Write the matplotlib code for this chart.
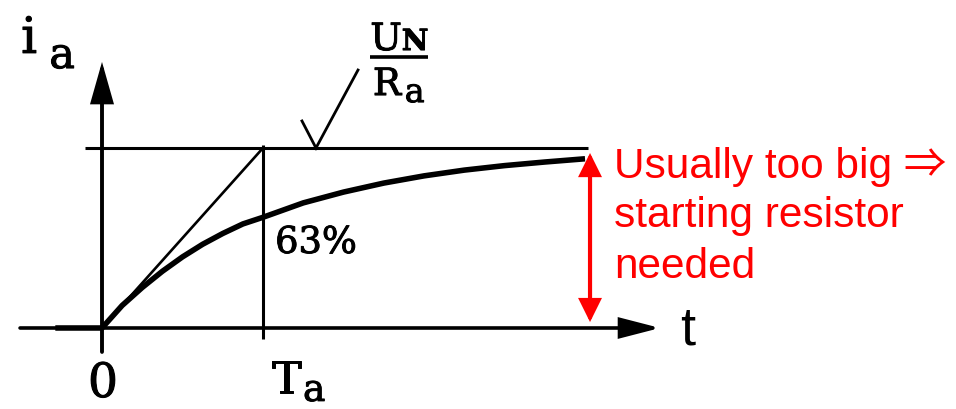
import matplotlib
matplotlib.use("Agg")
import matplotlib.pyplot as plt
import matplotlib.patheffects as pe

# Armature current of a DC motor after switching on, in units of T_a and U_N/R_a
t_curve = [-0.29, 0.0, 0.125, 0.25, 0.375, 0.5, 0.625, 0.75, 0.875, 1.0,
           1.25, 1.5, 1.75, 2.0, 2.25, 2.5, 2.75, 3.0]
i_curve = [0.0, 0.0, 0.125, 0.225, 0.315, 0.395, 0.465, 0.525, 0.578, 0.615,
           0.695, 0.755, 0.805, 0.845, 0.877, 0.902, 0.922, 0.94]

T_a = 1.0            # armature time constant
i_final = 1.0        # U_N / R_a
pct_label = "63%"
note_lines = ["Usually too big \u21d2", "starting resistor", "needed"]

fig = plt.figure(figsize=(9.56, 4.09), dpi=100)
ax = fig.add_axes([0, 0, 1, 1])
ax.set_xlim(-0.6335, 5.304)
ax.set_ylim(-0.45, 1.822)
ax.axis("off")

black = "black"
serif = ["DejaVu Serif"]
sans = ["Liberation Sans", "Noto Sans CJK JP", "DejaVu Sans"]
heavier = [pe.withStroke(linewidth=0.7, foreground=black)]


def arrow(x0, y0, x1, y1, color, lw, hl, hw, style="-|>"):
    ax.annotate("", xy=(x1, y1), xytext=(x0, y0),
                arrowprops=dict(arrowstyle=f"{style},head_length={hl},head_width={hw}",
                                mutation_scale=10, lw=lw, color=color,
                                shrinkA=0, shrinkB=0, joinstyle="miter"))


# coordinate axes
arrow(-0.509, 0, 3.466, 0, black, 2.6, 2.4, 0.62)
arrow(0, -0.133, 0, 1.478, black, 2.8, 2.4, 0.68)

# steady-state level and time constant marker
ax.plot([-0.106, 3.019], [i_final, i_final], color=black, lw=2.2, solid_capstyle="butt")
ax.plot([T_a, T_a], [-0.061, 1.017], color=black, lw=2.2, solid_capstyle="butt")
# initial tangent reaching the final value at T_a
ax.plot([0, T_a], [0, i_final], color=black, lw=1.9)

# current curve
ax.plot(t_curve, i_curve, color=black, lw=4.0, solid_joinstyle="round",
        solid_capstyle="butt")

# leader to the U_N/R_a label
ax.plot([1.242, 1.329, 1.590], [1.15, 1.0, 1.433], color=black, lw=2.0,
        solid_joinstyle="miter")

# labels
tkw = dict(family=serif, color=black, va="baseline", path_effects=heavier)
ax.text(-0.453, 1.528, "i", fontsize=36, ha="center", **tkw)
ax.text(-0.248, 1.444, "a", fontsize=31, ha="center", **tkw)

ax.text(1.764, 1.544, "U", fontsize=27, ha="center", **tkw)
ax.text(1.944, 1.544, "N", fontsize=21, ha="center", fontweight="bold", **tkw)
ax.plot([1.665, 2.025], [1.506, 1.506], color=black, lw=2.6, solid_capstyle="butt")
ax.text(1.770, 1.294, "R", fontsize=27, ha="center", **tkw)
ax.text(1.942, 1.255, "a", fontsize=24, ha="center", **tkw)

ax.text(0.006, -0.383, "0", fontsize=34, ha="center", **tkw)
ax.text(1.145, -0.361, "T", fontsize=32, ha="center", **tkw)
ax.text(1.318, -0.405, "a", fontsize=27, ha="center", **tkw)
ax.text(1.075, 0.417, pct_label, fontsize=26.5, ha="left", **tkw)

ax.text(3.59, -0.094, "t", fontsize=39, ha="left", va="baseline",
        family=sans, color=black)

# red double arrow marking the starting current
red = "#ff0000"
arrow(3.031, 0.033, 3.031, 0.972, red, 3.0, 1.25, 0.62, style="<|-|>")

for y, line in zip([0.833, 0.561, 0.278], note_lines):
    ax.text(3.18, y, line, fontsize=30.5, color=red, ha="left", va="baseline",
            family=sans)

fig.savefig("out.png", dpi=100)
